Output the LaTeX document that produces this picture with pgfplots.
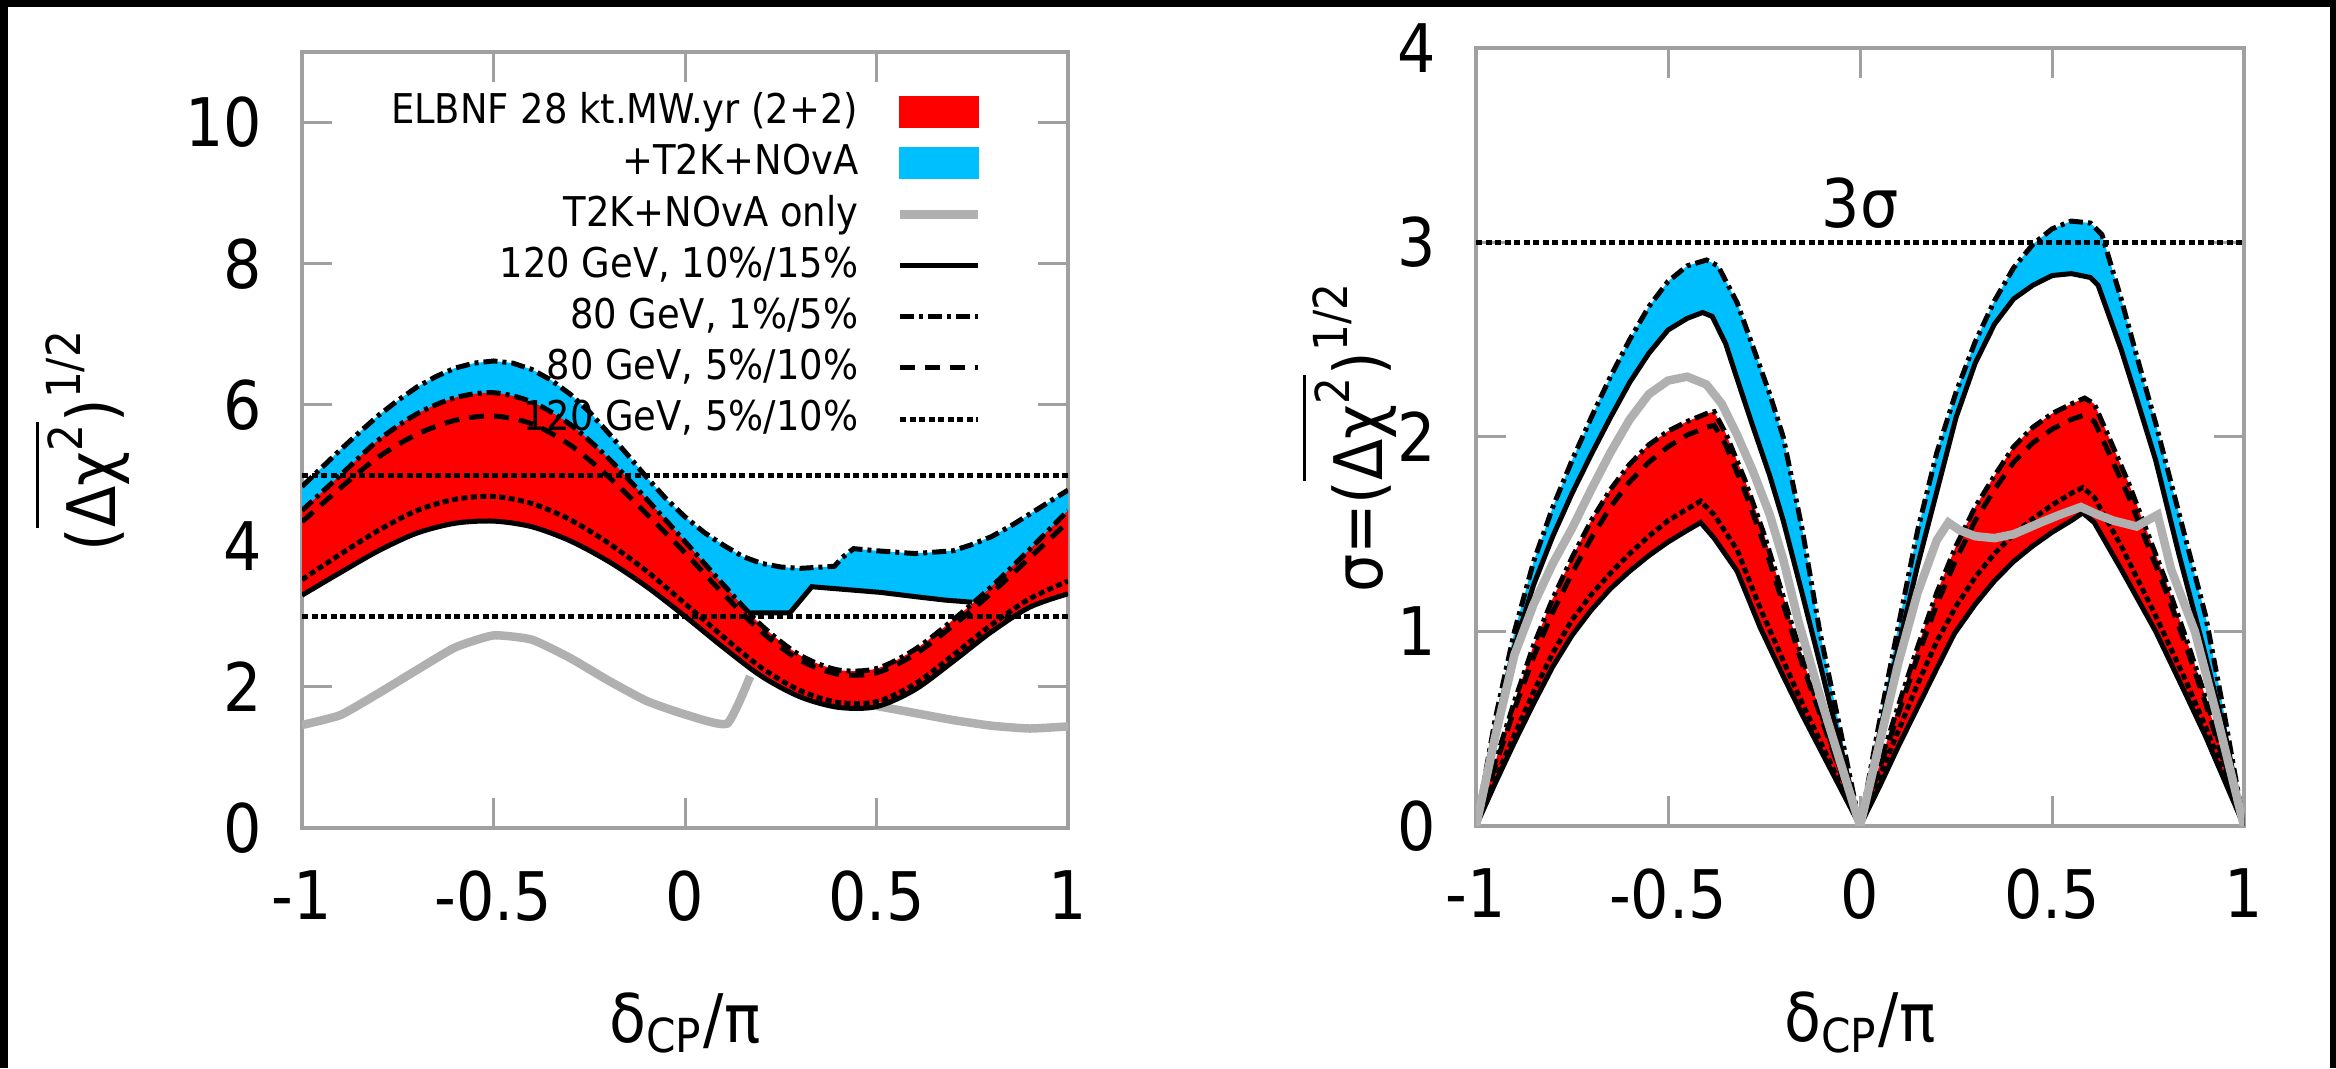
\documentclass[border=0pt]{standalone}
\usepackage{amsmath}
\usepackage{fontspec}
\setmainfont{DejaVu Sans}[FakeStretch=0.9]
\usepackage{pgfplots}
\usepackage{pgfplotstable}
\pgfplotsset{compat=1.18}
\usepgfplotslibrary{fillbetween}

\definecolor{cblue}{RGB}{0,191,255}
\definecolor{cred}{RGB}{255,0,0}
\definecolor{cgray}{RGB}{176,176,176}
\definecolor{axgray}{RGB}{160,160,160}

\newcommand\tickfont{\fontsize{13.4}{16}\selectfont}
\newcommand\legfont{\fontsize{8.2}{10}\selectfont}

\tikzset{
 solidl/.style={black, line width=1pt, solid},
 dashdotl/.style={black, line width=1pt, dash pattern=on 2.8pt off 1pt on 0.8pt off 1pt},
 dashedl/.style={black, line width=1pt, dash pattern=on 3pt off 2pt},
 dottedl/.style={black, line width=1pt, dash pattern=on 1.2pt off 0.7pt},
 grayl/.style={cgray, line width=1.7pt},
}

% ---------------- left panel ----------------
\pgfplotstableread{
x y
-1 4.84
-0.95 5.10
-0.9 5.36
-0.85 5.61
-0.8 5.85
-0.75 6.06
-0.7 6.25
-0.65 6.40
-0.6 6.52
-0.55 6.59
-0.5 6.62
-0.45 6.59
-0.4 6.50
-0.35 6.35
-0.3 6.15
-0.25 5.90
-0.2 5.60
-0.15 5.29
-0.1 4.97
-0.05 4.67
0 4.41
0.05 4.19
0.1 4.01
0.15 3.85
0.2 3.75
0.25 3.70
0.3 3.68
0.39 3.71
0.41 3.83
0.44 3.96
0.5 3.93
0.6 3.89
0.7 3.93
0.75 4.02
0.8 4.13
0.85 4.28
0.9 4.45
0.95 4.62
1 4.79
}\LBT
\pgfplotstableread{
x y
-1 4.20
-0.8 5.20
-0.6 5.80
-0.5 5.87
-0.4 5.74
-0.2 4.94
0 3.76
0.1 3.15
0.165 3.05
0.274 3.05
0.331 3.42
0.42 3.38
0.51 3.34
0.6 3.28
0.68 3.23
0.75 3.20
0.85 3.30
0.9 3.55
1 4.10
}\LBL
\pgfplotstableread{
x y
-1 4.50
-0.9 5.00
-0.8 5.50
-0.7 5.87
-0.6 6.10
-0.5 6.17
-0.4 6.04
-0.3 5.72
-0.2 5.24
-0.1 4.66
0 4.06
0.1 3.45
0.2 2.87
0.3 2.45
0.4 2.24
0.5 2.26
0.6 2.53
0.7 2.95
0.8 3.42
0.9 3.95
1 4.50
}\LRT
\pgfplotstableread{
x y
-1 4.34
-0.9 4.82
-0.8 5.26
-0.7 5.58
-0.6 5.78
-0.5 5.84
-0.4 5.73
-0.3 5.43
-0.2 4.98
-0.1 4.45
0 3.90
0.1 3.32
0.2 2.78
0.3 2.38
0.4 2.18
0.5 2.20
0.6 2.46
0.7 2.87
0.8 3.33
0.9 3.83
1 4.34
}\LDA
\pgfplotstableread{
x y
-1 3.52
-0.9 3.88
-0.8 4.22
-0.7 4.50
-0.6 4.66
-0.5 4.70
-0.4 4.60
-0.3 4.37
-0.2 4.04
-0.1 3.64
0 3.18
0.1 2.71
0.2 2.27
0.3 1.95
0.4 1.78
0.5 1.79
0.6 2.04
0.7 2.45
0.8 2.88
0.9 3.25
1 3.50
}\LDO
\pgfplotstableread{
x y
-1 3.30
-0.9 3.62
-0.8 3.93
-0.7 4.18
-0.6 4.32
-0.5 4.35
-0.4 4.27
-0.3 4.07
-0.2 3.78
-0.1 3.42
0 3.00
0.1 2.56
0.2 2.15
0.3 1.86
0.4 1.71
0.5 1.72
0.6 1.96
0.7 2.36
0.8 2.78
0.9 3.13
1 3.32
}\LSO
\pgfplotstableread{
x y
-1 1.46
-0.9 1.60
-0.8 1.91
-0.7 2.24
-0.6 2.56
-0.5 2.73
-0.4 2.67
-0.3 2.41
-0.2 2.09
-0.1 1.80
0 1.61
0.11 1.48
0.17 2.15
0.3 2.00
0.4 1.86
0.5 1.73
0.6 1.63
0.7 1.53
0.8 1.45
0.9 1.41
1 1.44
}\LGR

% ---------------- right panel ----------------
\pgfplotstableread{
x y
-1 0
-0.95 0.55
-0.9 1.00
-0.85 1.36
-0.8 1.64
-0.75 1.88
-0.7 2.10
-0.65 2.31
-0.6 2.50
-0.55 2.67
-0.5 2.80
-0.45 2.88
-0.4 2.91
-0.37 2.88
-0.32 2.69
-0.28 2.47
-0.235 2.22
-0.2 2.00
-0.15 1.52
-0.105 1.00
-0.05 0.48
0 0
0.05 0.53
0.1 1.03
0.15 1.52
0.2 1.92
0.25 2.23
0.3 2.49
0.35 2.70
0.4 2.87
0.45 2.99
0.5 3.07
0.55 3.11
0.6 3.10
0.63 3.04
0.68 2.71
0.72 2.42
0.77 2.07
0.8 1.84
0.85 1.46
0.9 1.08
0.95 0.56
1 0
}\RBT
\pgfplotstableread{
x y
-1 0
-0.95 0.50
-0.9 0.92
-0.85 1.24
-0.8 1.49
-0.75 1.71
-0.7 1.91
-0.65 2.10
-0.6 2.28
-0.55 2.43
-0.5 2.55
-0.45 2.61
-0.41 2.64
-0.385 2.62
-0.35 2.48
-0.322 2.31
-0.28 2.06
-0.235 1.80
-0.2 1.57
-0.15 1.19
-0.1 0.80
-0.05 0.40
0 0
0.05 0.47
0.1 0.92
0.15 1.34
0.2 1.72
0.25 2.10
0.3 2.38
0.35 2.58
0.4 2.71
0.45 2.78
0.5 2.83
0.55 2.84
0.6 2.82
0.62 2.78
0.68 2.45
0.72 2.20
0.77 1.88
0.83 1.40
0.89 0.95
0.95 0.48
1 0
}\RBL
\pgfplotstableread{
x y
-1 0
-0.95 0.33
-0.9 0.64
-0.85 0.93
-0.8 1.17
-0.75 1.38
-0.7 1.57
-0.65 1.73
-0.6 1.86
-0.55 1.96
-0.5 2.03
-0.45 2.08
-0.4 2.12
-0.38 2.13
-0.35 2.02
-0.3 1.78
-0.25 1.50
-0.2 1.18
-0.15 0.86
-0.1 0.57
-0.05 0.28
0 0
0.05 0.31
0.1 0.62
0.15 0.92
0.2 1.20
0.25 1.44
0.3 1.64
0.35 1.80
0.4 1.95
0.45 2.05
0.5 2.12
0.55 2.17
0.585 2.20
0.61 2.17
0.65 1.99
0.7 1.76
0.75 1.50
0.8 1.24
0.85 0.96
0.9 0.66
0.95 0.33
1 0
}\RRT
\pgfplotstableread{
x y
-1 0
-0.95 0.31
-0.9 0.60
-0.85 0.87
-0.8 1.10
-0.75 1.30
-0.7 1.48
-0.65 1.64
-0.6 1.77
-0.55 1.87
-0.5 1.95
-0.45 2.01
-0.4 2.05
-0.38 2.06
-0.35 1.96
-0.3 1.72
-0.25 1.45
-0.2 1.14
-0.15 0.83
-0.1 0.55
-0.05 0.27
0 0
0.05 0.29
0.1 0.58
0.15 0.87
0.2 1.14
0.25 1.37
0.3 1.57
0.35 1.73
0.4 1.87
0.45 1.97
0.5 2.04
0.55 2.09
0.58 2.11
0.61 2.08
0.65 1.91
0.7 1.69
0.75 1.44
0.8 1.19
0.85 0.92
0.9 0.63
0.95 0.31
1 0
}\RDA
\pgfplotstableread{
x y
-1 0
-0.95 0.24
-0.9 0.47
-0.85 0.69
-0.8 0.89
-0.75 1.06
-0.7 1.19
-0.65 1.30
-0.6 1.40
-0.55 1.49
-0.5 1.57
-0.45 1.63
-0.415 1.67
-0.38 1.60
-0.32 1.42
-0.26 1.12
-0.2 0.85
-0.15 0.63
-0.1 0.42
-0.05 0.21
0 0
0.05 0.25
0.1 0.49
0.15 0.73
0.2 0.95
0.25 1.13
0.3 1.28
0.35 1.40
0.4 1.50
0.45 1.58
0.5 1.65
0.55 1.71
0.58 1.74
0.61 1.69
0.68 1.44
0.77 1.08
0.85 0.74
0.9 0.51
0.95 0.26
1 0
}\RDO
\pgfplotstableread{
x y
-1 0
-0.95 0.22
-0.9 0.43
-0.85 0.63
-0.8 0.82
-0.75 0.98
-0.7 1.11
-0.65 1.22
-0.6 1.31
-0.55 1.39
-0.5 1.46
-0.45 1.52
-0.415 1.56
-0.38 1.48
-0.32 1.31
-0.26 1.02
-0.2 0.77
-0.15 0.57
-0.1 0.38
-0.05 0.19
0 0
0.05 0.20
0.1 0.41
0.15 0.61
0.2 0.81
0.246 0.99
0.3 1.14
0.35 1.26
0.4 1.36
0.45 1.44
0.5 1.51
0.55 1.57
0.58 1.61
0.61 1.56
0.68 1.32
0.77 1.00
0.85 0.67
0.9 0.46
0.95 0.23
1 0
}\RSO
\pgfplotstableread{
x y
-1 0
-0.95 0.46
-0.9 0.88
-0.85 1.14
-0.8 1.35
-0.75 1.53
-0.7 1.73
-0.65 1.92
-0.6 2.09
-0.55 2.22
-0.5 2.29
-0.45 2.31
-0.4 2.27
-0.36 2.17
-0.32 2.01
-0.28 1.83
-0.235 1.60
-0.2 1.37
-0.16 1.05
-0.1 0.64
-0.05 0.32
0 0
0.05 0.42
0.1 0.84
0.15 1.20
0.2 1.47
0.23 1.56
0.26 1.52
0.3 1.49
0.35 1.48
0.4 1.50
0.47 1.56
0.52 1.60
0.575 1.64
0.62 1.60
0.66 1.57
0.72 1.54
0.775 1.60
0.81 1.32
0.872 1.00
0.93 0.56
1 0
}\RGR

\pgfplotsset{
  myaxis/.style={
    scale only axis,
    xmin=-1, xmax=1,
    xtick={-1,-0.5,0,0.5,1},
    xticklabels={-1,-0.5,0,0.5,1},
    tick align=inside,
    tick pos=both,
    major tick length=6pt,
    axis line style={axgray, line width=0.66pt},
    tick style={axgray, line width=0.6pt},
    tick label style={font=\tickfont, text=black},
    xticklabel style={yshift=-5pt},
    yticklabel style={xshift=-4.5pt},
    label style={font=\tickfont},
    xlabel={δ\textsubscript{CP}/π},
  }
}

\begin{document}
\begin{tikzpicture}
% black border of the original picture
\fill[black] (0pt,212.2pt) rectangle (467.2pt,213.6pt);
\fill[black] (0pt,0pt) rectangle (1.6pt,213.6pt);
\fill[black] (466.0pt,0pt) rectangle (467.2pt,213.6pt);

% ================= LEFT =================
\begin{axis}[myaxis,
  at={(60.4pt,48pt)}, anchor=south west,
  width=153.2pt, height=155.2pt,
  ymin=0, ymax=11,
  ytick={0,2,4,6,8,10},
  yticklabels={0,2,4,6,8,10},
  xlabel style={at={(axis description cs:0.5,-0.2758)}, anchor=base},
  ylabel={$\text{(}\overline{\text{Δχ}^{\text{2}}}\text{)}^{\text{1/2}}$},
  ylabel style={at={(axis description cs:-0.288,0.5)}, anchor=center},
  legend style={at={(0.890,0.957)}, anchor=north east, draw=none, fill=none,
    inner sep=0pt, row sep=0pt, column sep=7.6pt,
    nodes={inner sep=0pt, minimum height=10.24pt, font=\legfont, text=black}},
  legend cell align=right, legend plot pos=right,
]
\addplot[draw=none, name path=LBT, forget plot] table {\LBT};
\addplot[draw=none, name path=LBL, forget plot] table {\LBL};
\addplot[cblue, forget plot] fill between[of=LBT and LBL];

\addplot[draw=none, smooth, name path=LRT, forget plot] table {\LRT};
\addplot[draw=none, smooth, name path=LSO, forget plot] table {\LSO};
\addplot[cred, forget plot] fill between[of=LRT and LSO];

% T2K+NOvA only (the part hidden behind the red band is left out)
\addplot[grayl, smooth, tension=0.3, forget plot, restrict x to domain=-1:0.175] table {\LGR};
\addplot[grayl, smooth, tension=0.3, forget plot, restrict x to domain=0.49:1] table {\LGR};

\addplot[dashdotl, forget plot] table {\LBT};
\addplot[solidl, forget plot, restrict x to domain=0.16:0.76] table {\LBL};

\addplot[solidl, smooth, forget plot] table {\LSO};
\addplot[dottedl, smooth, forget plot] table {\LDO};
\addplot[dashedl, smooth, forget plot] table {\LDA};
\addplot[dashdotl, smooth, forget plot] table {\LRT};

\addplot[dottedl, forget plot] coordinates {(-1,5) (1,5)};
\addplot[dottedl, forget plot] coordinates {(-1,3) (1,3)};

\addlegendimage{legend image code/.code={\fill[cred] (0pt,-3pt) rectangle (15.6pt,3pt);}}
\addlegendentry{ELBNF 28 kt.MW.yr (2+2)}
\addlegendimage{legend image code/.code={\fill[cblue] (0pt,-3pt) rectangle (15.6pt,3pt);}}
\addlegendentry{+T2K+NOvA}
\addlegendimage{legend image code/.code={\draw[grayl] (0pt,0pt) -- (15.6pt,0pt);}}
\addlegendentry{T2K+NOvA only}
\addlegendimage{legend image code/.code={\draw[solidl] (0pt,0pt) -- (15.6pt,0pt);}}
\addlegendentry{120 GeV, 10\%/15\%}
\addlegendimage{legend image code/.code={\draw[dashdotl] (0pt,0pt) -- (15.6pt,0pt);}}
\addlegendentry{80 GeV, 1\%/5\%}
\addlegendimage{legend image code/.code={\draw[dashedl] (0pt,0pt) -- (15.6pt,0pt);}}
\addlegendentry{80 GeV, 5\%/10\%}
\addlegendimage{legend image code/.code={\draw[dottedl] (0pt,0pt) -- (15.6pt,0pt);}}
\addlegendentry{120 GeV, 5\%/10\%}
\end{axis}

% ================= RIGHT =================
\begin{axis}[myaxis,
  at={(295.2pt,48.4pt)}, anchor=south west,
  width=153.6pt, height=155.6pt,
  ymin=0, ymax=4,
  ytick={0,1,2,3,4},
  yticklabels={0,1,2,3,4},
  xlabel style={at={(axis description cs:0.5,-0.2776)}, anchor=base},
  ylabel={$\text{σ=(}\overline{\text{Δχ}^{\text{2}}}\text{)}^{\text{1/2}}$},
  ylabel style={at={(axis description cs:-0.1667,0.5)}, anchor=center},
]
\addplot[draw=none, name path=RBT, forget plot] table {\RBT};
\addplot[draw=none, name path=RBL, forget plot] table {\RBL};
\addplot[cblue, forget plot] fill between[of=RBT and RBL];

\addplot[draw=none, name path=RRT, forget plot] table {\RRT};
\addplot[draw=none, name path=RSO, forget plot] table {\RSO};
\addplot[cred, forget plot] fill between[of=RRT and RSO];

\addplot[dashdotl, forget plot] table {\RBT};
\addplot[solidl, forget plot] table {\RBL};
\addplot[solidl, forget plot] table {\RSO};
\addplot[dottedl, forget plot] table {\RDO};
\addplot[dashedl, forget plot] table {\RDA};
\addplot[dashdotl, forget plot] table {\RRT};

\addplot[grayl, forget plot] table {\RGR};

\addplot[dottedl, forget plot] coordinates {(-1,3) (1,3)};
\node[font=\tickfont] at (axis cs:0,3.2) {3σ};
\end{axis}

\pgfresetboundingbox
\useasboundingbox (0pt,0pt) rectangle (467.2pt,213.6pt);
\end{tikzpicture}
\end{document}
